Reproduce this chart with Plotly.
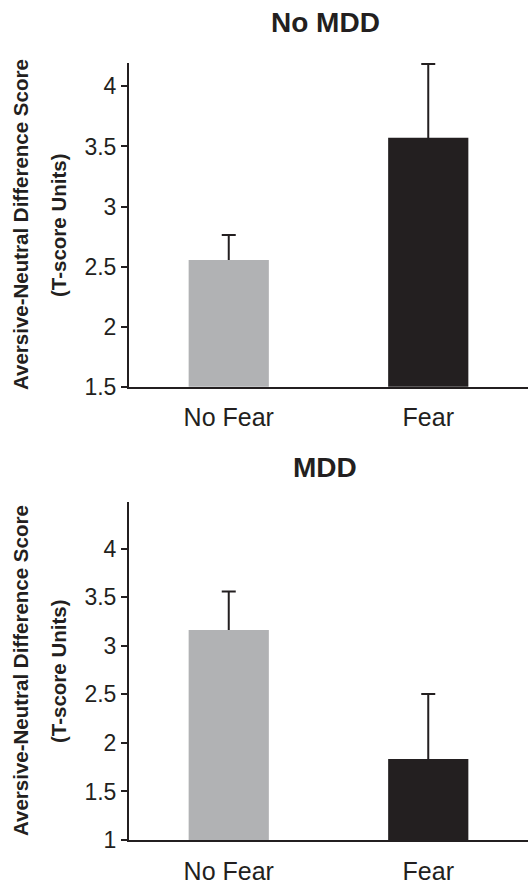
import plotly.graph_objects as go

# ---- data ----
categories = ["No Fear", "Fear"]
no_mdd_means = [2.555, 3.572]
no_mdd_err = [0.207, 0.615]
mdd_means = [3.163, 1.834]
mdd_err = [0.395, 0.670]
top_ticks = [1.5, 2, 2.5, 3, 3.5, 4]
top_tick_labels = ["1.5", "2", "2.5", "3", "3.5", "4"]
bot_ticks = [1, 1.5, 2, 2.5, 3, 3.5, 4]
bot_tick_labels = ["1", "1.5", "2", "2.5", "3", "3.5", "4"]
panel_titles = ["No MDD", "MDD"]
ytitle_line1 = "Aversive-Neutral Difference Score"
ytitle_line2 = "(T-score Units)"

# ---- style ----
W, H = 528, 885
INK = "#231f20"
GRAY = "#b1b2b4"
bar_colors = [GRAY, INK]
FONT = "Liberation Sans, Arial, Helvetica, sans-serif"


def px_x(p):
    return p / W


def px_y(p):
    return 1 - p / H


x_dom = [px_x(129), 1]
top_dom = [px_y(386.7), px_y(63)]
bot_dom = [px_y(840), px_y(501.7)]
x_range = [-0.5, 1.5]

fig = go.Figure()


def add_panel(means, errs, xa, ya):
    # error bars drawn first, so the visible bars hide their lower half
    fig.add_trace(go.Bar(
        x=categories, y=means, width=0.402, xaxis=xa, yaxis=ya,
        marker=dict(color="rgba(0,0,0,0)", line=dict(width=0)),
        error_y=dict(type="data", array=errs, symmetric=True,
                     color=INK, thickness=2, width=7),
        showlegend=False, hoverinfo="skip",
    ))
    fig.add_trace(go.Bar(
        x=categories, y=means, width=0.402, xaxis=xa, yaxis=ya,
        marker=dict(color=bar_colors, line=dict(width=0)),
        showlegend=False,
    ))


add_panel(no_mdd_means, no_mdd_err, "x", "y")
add_panel(mdd_means, mdd_err, "x2", "y2")

axis_line = dict(showline=True, linecolor=INK, linewidth=2,
                 showgrid=False, zeroline=False, automargin=False)

fig.update_layout(
    width=W, height=H,
    margin=dict(l=0, r=0, t=0, b=0, autoexpand=False),
    paper_bgcolor="white", plot_bgcolor="white",
    barmode="overlay",
    font=dict(family=FONT, color=INK),
    modebar=dict(bgcolor="rgba(0,0,0,0)", color="rgba(0,0,0,0)",
                 activecolor="rgba(0,0,0,0)"),
    xaxis=dict(domain=x_dom, anchor="y", ticks="",
               tickfont=dict(size=25, color=INK), ticklabelstandoff=7,
               range=x_range, **axis_line),
    yaxis=dict(domain=top_dom, anchor="x", range=[1.5, 4.195],
               tickvals=top_ticks, ticktext=top_tick_labels,
               ticks="outside", ticklen=6, tickwidth=2, tickcolor=INK,
               tickfont=dict(size=23, color=INK), **axis_line),
    yaxis3=dict(overlaying="y", anchor="x", side="left", range=[1.5, 4.195],
                tickvals=top_ticks, ticks="inside", ticklen=7, tickwidth=2,
                tickcolor=INK, showticklabels=False, showline=False,
                showgrid=False, zeroline=False, automargin=False),
    xaxis2=dict(domain=x_dom, anchor="y2", ticks="",
                tickfont=dict(size=25, color=INK), ticklabelstandoff=8,
                range=x_range, **axis_line),
    yaxis2=dict(domain=bot_dom, anchor="x2", range=[1, 4.484],
                tickvals=bot_ticks, ticktext=bot_tick_labels,
                ticks="outside", ticklen=6, tickwidth=2, tickcolor=INK,
                tickfont=dict(size=23, color=INK), **axis_line),
    yaxis4=dict(overlaying="y2", anchor="x2", side="left", range=[1, 4.484],
                tickvals=bot_ticks, ticks="inside", ticklen=7, tickwidth=2,
                tickcolor=INK, showticklabels=False, showline=False,
                showgrid=False, zeroline=False, automargin=False),
)

annotations = []
for title, ty, pc in [(panel_titles[0], 23, 225), (panel_titles[1], 467, 671)]:
    annotations.append(dict(
        text="<b>%s</b>" % title, xref="paper", yref="paper",
        x=px_x(325), y=px_y(ty), xanchor="center", yanchor="middle",
        showarrow=False, font=dict(size=28, color=INK, family=FONT)))
    annotations.append(dict(
        text="<b>%s</b>" % ytitle_line1, xref="paper", yref="paper",
        x=px_x(20), y=px_y(pc), xanchor="center", yanchor="middle",
        textangle=-90, showarrow=False,
        font=dict(size=20.5, color=INK, family=FONT)))
    annotations.append(dict(
        text="<b>%s</b>" % ytitle_line2, xref="paper", yref="paper",
        x=px_x(58), y=px_y(pc), xanchor="center", yanchor="middle",
        textangle=-90, showarrow=False,
        font=dict(size=20.5, color=INK, family=FONT)))
fig.update_layout(annotations=annotations)

fig.write_html("out.html", config={"displayModeBar": False},
               post_script="document.body.style.margin='0';")
